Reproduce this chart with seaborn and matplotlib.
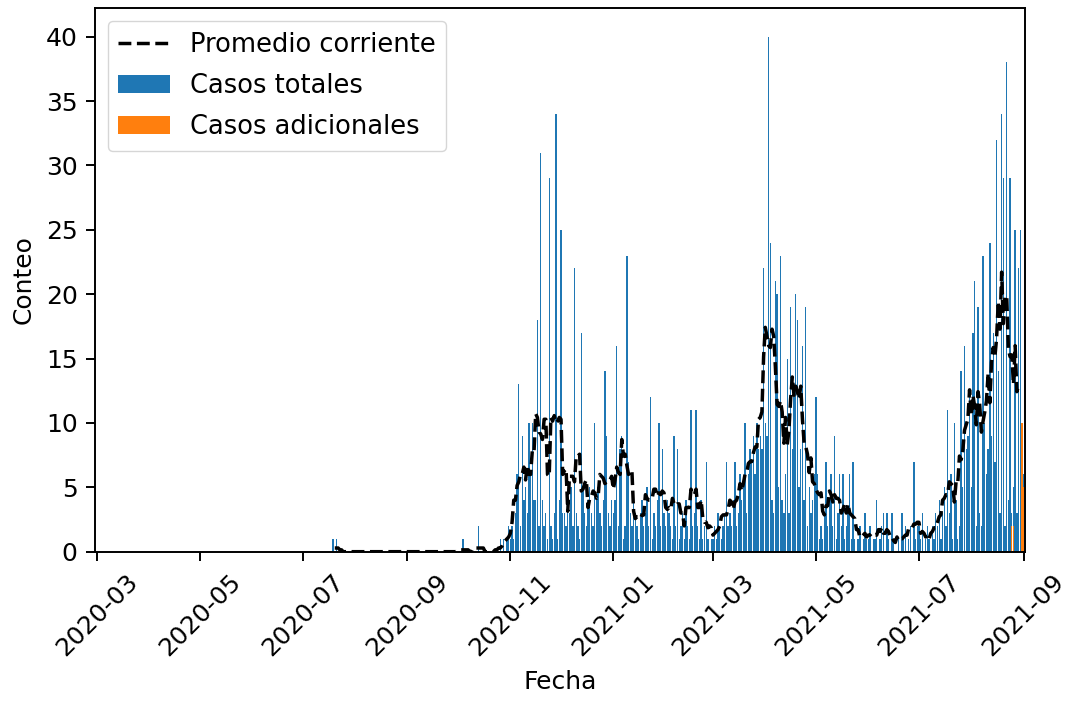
import pandas as pd
import seaborn as sns
import matplotlib.pyplot as plt
import matplotlib.dates as mdates

# daily counts (starting 2020-07-17)
jul_2020 = [0, 0, 1, 0, 1, 0, 0, 0, 0, 0, 0, 0, 0, 0, 0]
aug_2020 = [0] * 31
sep_2020 = [0] * 30
oct_2020 = [0, 0, 0, 1, 0, 0, 0, 0, 0, 0, 0, 0, 2, 0, 0, 0, 0, 0, 0, 0, 0, 0, 0, 0, 0, 1, 0, 1, 0, 1, 2]
nov_2020 = [1, 2, 1, 3, 6, 13, 2, 9, 4, 5, 3, 10, 6, 10, 4, 4, 18, 2, 31, 4, 2, 3, 1, 29, 2, 1, 3, 34, 1, 4]
dec_2020 = [25, 3, 3, 2, 4, 3, 5, 2, 22, 3, 2, 1, 17, 5, 3, 2, 4, 5, 3, 2, 10, 4, 5, 3, 2, 4, 14, 9, 3, 2, 4]
jan_2021 = [3, 4, 16, 2, 8, 9, 1, 2, 23, 7, 3, 2, 4, 3, 2, 1, 3, 4, 2, 3, 5, 2, 12, 1, 3, 2, 4, 10, 2, 8, 3]
feb_2021 = [2, 4, 3, 2, 1, 9, 2, 8, 1, 2, 3, 1, 4, 2, 1, 11, 2, 3, 11, 2, 1, 4, 1, 2, 7, 1, 0, 1]
mar_2021 = [1, 2, 1, 3, 2, 1, 2, 3, 7, 2, 3, 2, 4, 7, 2, 3, 6, 4, 5, 10, 3, 6, 8, 7, 9, 6, 10, 8, 9, 8, 22]
apr_2021 = [10, 9, 40, 24, 4, 3, 21, 20, 5, 23, 4, 3, 6, 15, 3, 19, 8, 12, 20, 18, 5, 8, 16, 4, 19, 2, 5, 3, 4, 6]
may_2021 = [12, 6, 1, 2, 1, 3, 7, 2, 4, 6, 2, 9, 1, 3, 6, 2, 6, 1, 2, 3, 6, 1, 7, 1, 0, 1, 2, 0, 1, 3, 1]
jun_2021 = [1, 2, 0, 1, 1, 4, 0, 1, 2, 3, 0, 3, 1, 0, 3, 1, 0, 0, 1, 0, 3, 1, 2, 0, 1, 2, 0, 7, 1, 2]
jul_2021 = [2, 1, 3, 0, 1, 2, 1, 0, 2, 1, 3, 2, 4, 1, 3, 5, 2, 11, 3, 6, 1, 10, 4, 1, 2, 14, 5, 16, 8, 9, 12]
aug_2021 = [5, 17, 21, 2, 19, 3, 2, 23, 10, 6, 8, 24, 9, 17, 7, 32, 14, 3, 34, 29, 2, 38, 4, 29, 3, 5, 25, 3, 22, 25, 4]
sep_2021 = [6]

# additional cases at the end of the period
extra_dates = ["2021-08-25", "2021-08-26", "2021-08-31", "2021-09-01"]
extra_counts = [2, 2, 10, 5]

totals = (jul_2020 + aug_2020 + sep_2020 + oct_2020 + nov_2020 + dec_2020 + jan_2021
          + feb_2021 + mar_2021 + apr_2021 + may_2021 + jun_2021 + jul_2021 + aug_2021 + sep_2021)

df = pd.DataFrame({"Fecha": pd.date_range("2020-07-17", periods=len(totals), freq="D"),
                   "Casos": totals})
df["Promedio"] = df["Casos"].rolling(7, center=True).mean()

extra = pd.DataFrame({"Fecha": pd.to_datetime(extra_dates), "Casos": extra_counts})

# figure looks like a scaled-up default style, so scale ticks and lines too
plt.rcParams.update({
    "font.size": 18,
    "axes.linewidth": 1.4,
    "axes.labelpad": 7,
    "xtick.major.size": 6.3, "ytick.major.size": 6.3,
    "xtick.major.width": 1.4, "ytick.major.width": 1.4,
    "xtick.major.pad": 6.3, "ytick.major.pad": 6.3,
})
fig, ax = plt.subplots(figsize=(10.68, 7.01), dpi=100)
fig.subplots_adjust(left=0.089, right=0.96, bottom=0.213, top=0.988)

ax.bar(df["Fecha"], df["Casos"], width=0.8, color="#1f77b4", label="Casos totales")
ax.bar(extra["Fecha"], extra["Casos"], width=0.8, color="#ff7f0e", label="Casos adicionales")
sns.lineplot(data=df, x="Fecha", y="Promedio", ax=ax, color="black", linestyle="--",
             linewidth=2.5, label="Promedio corriente")

ax.set_xlim(pd.Timestamp("2020-02-29"), pd.Timestamp("2021-09-02"))
ax.set_ylim(0, 42.2)
ax.xaxis.set_major_locator(mdates.MonthLocator(bymonth=[1, 3, 5, 7, 9, 11]))
ax.xaxis.set_major_formatter(mdates.DateFormatter("%Y-%m"))
plt.xticks(rotation=45)
ax.set_xlabel("Fecha")
ax.set_ylabel("Conteo")

handles, labels = ax.get_legend_handles_labels()
order = [labels.index(l) for l in ["Promedio corriente", "Casos totales", "Casos adicionales"]]
ax.legend([handles[i] for i in order], [labels[i] for i in order], loc="upper left",
          fontsize=18.5, labelspacing=0.6)

fig.savefig("out.png")
